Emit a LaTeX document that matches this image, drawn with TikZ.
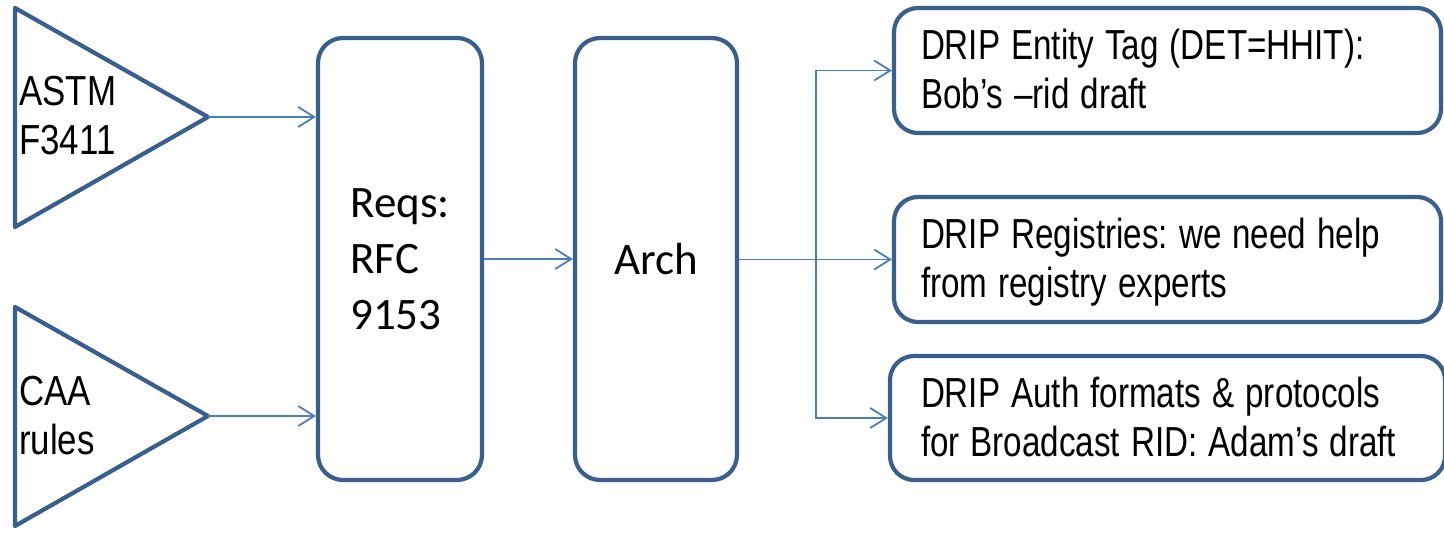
\documentclass[tikz,border=0pt]{standalone}
\usepackage{fontspec}
\usepackage{graphicx}
\usetikzlibrary{arrows.meta}
\frenchspacing
\newfontfamily\arialfont{Liberation Sans}
\newfontfamily\calibfont{Carlito}
\definecolor{boxblue}{RGB}{58,95,140}
\definecolor{connblue}{RGB}{74,126,187}
\newcommand{\narrowlines}[2]{\raisebox{-4pt}[\height][\depth]{\scalebox{#1}[1]{\begin{tabular}{@{}l@{}}#2\end{tabular}}}}
\tikzset{
  shapeline/.style={draw=boxblue, line width=4.2pt, line join=round},
  tallbox/.style={shapeline, rounded corners=25pt, inner sep=0pt, align=left,
    font=\calibfont\fontsize{45}{56}\selectfont},
  widebox/.style={shapeline, rounded corners=24pt, minimum width=547pt, inner xsep=27pt,
    text width=493pt, align=left, font={\arialfont\fontsize{42}{49}\selectfont}},
  tritext/.style={inner sep=0pt, anchor=west, align=left, font=\arialfont\fontsize{42}{49}\selectfont},
  conn/.style={draw=connblue, line width=1.8pt, -{Straight Barb[length=16pt,width=20pt]}},
}
\begin{document}
\begin{tikzpicture}[x=1pt,y=-1pt]
\useasboundingbox (0,0) rectangle (1444,534);
% triangles
\draw[shapeline] (15,8) -- (208,117) -- (15,227) -- cycle;
\draw[shapeline] (15,307) -- (208,416) -- (15,526) -- cycle;
\coordinate (astm) at (208,117);
\coordinate (caa) at (208,416);
\node[tritext] (astmtxt) at (19,116) {\narrowlines{0.83}{ASTM\\F3411}};
\node[tritext] (caatxt) at (19,416) {\narrowlines{0.83}{CAA\\rules}};
% tall boxes
\node[tallbox, minimum width=164pt, minimum height=442pt] (reqs) at (400,259) {Reqs:\\RFC\\9153};
\node[tallbox, minimum width=162pt, minimum height=442pt] (arch) at (656,259) {Arch};
% wide boxes
\node[widebox, minimum height=125pt] (e1) at (1167.5,70.5) {\narrowlines{0.79}{DRIP Entity Tag (DET=HHIT):\\Bob’s –rid draft}};
\node[widebox, minimum height=125pt] (e2) at (1167.5,259.5) {\narrowlines{0.79}{DRIP Registries: we need help\\from registry experts}};
\node[widebox, minimum height=124pt, inner xsep=31pt] (e3) at (1167.5,418) {\narrowlines{0.79}{DRIP Auth formats \& protocols\\for Broadcast RID: Adam’s draft}};
% connectors
\coordinate (split) at (816,259.5);
\draw[conn] (astm) -- (astm -| reqs.west);
\draw[conn] (caa) -- (caa -| reqs.west);
\draw[conn] (reqs.east) -- (arch.west);
\draw[conn] (arch.east |- split) -- (e2.west);
\draw[conn] (split) |- (e1.west);
\draw[conn] (split) |- (e3.west);
\end{tikzpicture}
\end{document}
